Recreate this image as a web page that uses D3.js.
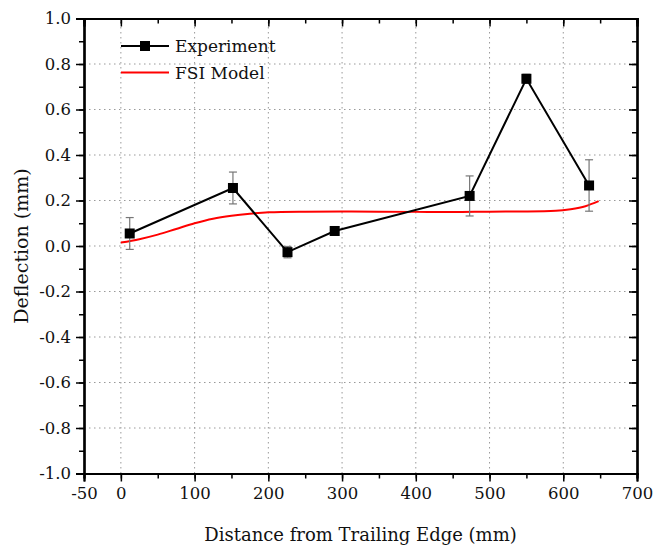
<!DOCTYPE html>
<html>
<head>
<meta charset="utf-8">
<script src="https://d3js.org/d3.v7.min.js"></script>
<style>
  body { margin: 0; background: #fff; }
  text { font-family: "DejaVu Serif", serif; fill: #111; }
</style>
</head>
<body>
<svg id="chart" width="655" height="547"></svg>
<script>
// experiment measurements: position along chord, deflection, error
const expX = [12, 152, 226, 290, 473, 550, 635];
const expY = [0.055, 0.255, -0.027, 0.066, 0.22, 0.735, 0.266];
const expErr = [0.07, 0.07, 0.025, 0.015, 0.088, 0.02, 0.113];

// FSI model curve
const fsiX = [0, 25, 50, 75, 100, 125, 150, 175, 200, 250, 300, 350, 400, 450, 500, 550, 590, 610, 630, 648];
const fsiY = [0.015, 0.03, 0.05, 0.075, 0.10, 0.12, 0.133, 0.142, 0.148, 0.151, 0.152, 0.151, 0.150, 0.149, 0.151, 0.152, 0.155, 0.162, 0.175, 0.197];

const xTicks = [-50, 0, 100, 200, 300, 400, 500, 600, 700];
const yTicks = [-1.0, -0.8, -0.6, -0.4, -0.2, 0.0, 0.2, 0.4, 0.6, 0.8, 1.0];
const legendLabels = ["Experiment", "FSI Model"];

const margin = { left: 84, right: 18, top: 18.5, bottom: 73.5 };
const W = 655, H = 547;
const svg = d3.select("#chart");

const x = d3.scaleLinear().domain([-50, 700]).range([margin.left, W - margin.right]);
const y = d3.scaleLinear().domain([-1, 1]).range([H - margin.bottom, margin.top]);

// plain hyphen for negatives, like the original
const fmtX = d => d3.format("d")(d).replace("−", "-");
const fmtY = d => d3.format(".1f")(d).replace("−", "-");

// grid (dotted, only at inner major ticks)
const g = svg.append("g");
g.selectAll("line.gx").data(xTicks.filter(d => d > -50 && d < 700)).join("line")
  .attr("x1", d => x(d)).attr("x2", d => x(d))
  .attr("y1", y(-1)).attr("y2", y(1))
  .attr("stroke", "#999").attr("stroke-width", 1).attr("stroke-dasharray", "1.5,3.5");
g.selectAll("line.gy").data(yTicks.filter(d => d > -1 && d < 1)).join("line")
  .attr("y1", d => y(d)).attr("y2", d => y(d))
  .attr("x1", x(-50)).attr("x2", x(700))
  .attr("stroke", "#999").attr("stroke-width", 1).attr("stroke-dasharray", "1.5,3.5");

// axes
const minorX = d3.range(-50, 701, 50);
const minorY = d3.range(-10, 11).map(d => d / 10);

function styleAxis(sel) {
  sel.select(".domain").attr("stroke", "#000").attr("stroke-width", 2.2);
  sel.selectAll(".tick line").attr("stroke", "#000").attr("stroke-width", 1.5);
  sel.selectAll("text").style("font-size", "16.5px").style("font-family", "DejaVu Serif").attr("fill", "#111");
}

// minor ticks first
svg.append("g").attr("transform", `translate(0,${y(-1)})`)
  .call(d3.axisBottom(x).tickValues(minorX).tickSize(5).tickFormat("")).call(styleAxis);
svg.append("g").attr("transform", `translate(0,${y(1)})`)
  .call(d3.axisBottom(x).tickValues(minorX).tickSize(5).tickFormat("")).call(styleAxis);
svg.append("g").attr("transform", `translate(${x(-50)},0)`)
  .call(d3.axisLeft(y).tickValues(minorY).tickSize(5).tickFormat("")).call(styleAxis);
svg.append("g").attr("transform", `translate(${x(700)},0)`)
  .call(d3.axisLeft(y).tickValues(minorY).tickSize(5).tickFormat("")).call(styleAxis);

svg.append("g").attr("transform", `translate(0,${y(-1)})`)
  .call(d3.axisBottom(x).tickValues(xTicks).tickSize(8).tickPadding(6).tickFormat(fmtX))
  .call(styleAxis);
svg.append("g").attr("transform", `translate(${x(-50)},0)`)
  .call(d3.axisLeft(y).tickValues(yTicks).tickSize(8).tickPadding(5).tickFormat(fmtY))
  .call(styleAxis);
// top / right: ticks pointing inward
svg.append("g").attr("transform", `translate(0,${y(1)})`)
  .call(d3.axisBottom(x).tickValues(xTicks).tickSize(8).tickFormat("")).call(styleAxis);
svg.append("g").attr("transform", `translate(${x(700)},0)`)
  .call(d3.axisLeft(y).tickValues(yTicks).tickSize(8).tickFormat("")).call(styleAxis);

// FSI model
const fsi = fsiX.map((d, i) => [d, fsiY[i]]);
svg.append("path").datum(fsi)
  .attr("fill", "none").attr("stroke", "#f00").attr("stroke-width", 2)
  .attr("d", d3.line().x(d => x(d[0])).y(d => y(d[1])).curve(d3.curveMonotoneX));

// experiment
const exp = expX.map((d, i) => ({ x: d, y: expY[i], e: expErr[i] }));
const eb = svg.append("g").attr("stroke", "#777").attr("stroke-width", 1.2);
exp.forEach(d => {
  eb.append("line").attr("x1", x(d.x)).attr("x2", x(d.x)).attr("y1", y(d.y - d.e)).attr("y2", y(d.y + d.e));
  eb.append("line").attr("x1", x(d.x) - 4).attr("x2", x(d.x) + 4).attr("y1", y(d.y - d.e)).attr("y2", y(d.y - d.e));
  eb.append("line").attr("x1", x(d.x) - 4).attr("x2", x(d.x) + 4).attr("y1", y(d.y + d.e)).attr("y2", y(d.y + d.e));
});
svg.append("path").datum(exp)
  .attr("fill", "none").attr("stroke", "#000").attr("stroke-width", 2)
  .attr("d", d3.line().x(d => x(d.x)).y(d => y(d.y)));
const ms = 10;
svg.selectAll("rect.m").data(exp).join("rect")
  .attr("x", d => x(d.x) - ms / 2).attr("y", d => y(d.y) - ms / 2)
  .attr("width", ms).attr("height", ms).attr("fill", "#000");

// legend
const lg = svg.append("g");
lg.append("line").attr("x1", 121).attr("x2", 169).attr("y1", 46).attr("y2", 46)
  .attr("stroke", "#000").attr("stroke-width", 2);
lg.append("rect").attr("x", 145 - ms / 2).attr("y", 46 - ms / 2).attr("width", ms).attr("height", ms).attr("fill", "#000");
lg.append("line").attr("x1", 121).attr("x2", 169).attr("y1", 72.5).attr("y2", 72.5)
  .attr("stroke", "#f00").attr("stroke-width", 2);
lg.selectAll("text").data(legendLabels).join("text")
  .attr("x", 175).attr("y", (d, i) => 52 + i * 26.5)
  .style("font-size", "17px").text(d => d);

// axis titles
svg.append("text").attr("x", (x(-50) + x(700)) / 2).attr("y", 541)
  .attr("text-anchor", "middle").style("font-size", "18px")
  .text("Distance from Trailing Edge (mm)");
svg.append("text").attr("transform", `translate(28,${(y(-1) + y(1)) / 2}) rotate(-90)`)
  .attr("text-anchor", "middle").style("font-size", "19px")
  .text("Deflection (mm)");
</script>
</body>
</html>
